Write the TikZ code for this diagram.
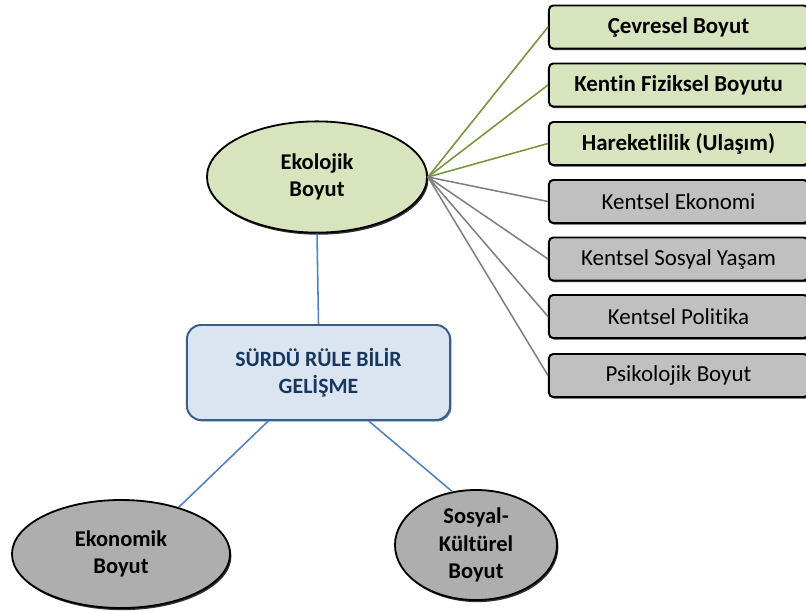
\documentclass[tikz,border=0pt]{standalone}
\usepackage{fontspec}
\setmainfont{Carlito}[RawFeature={-liga}]
\usetikzlibrary{shapes.geometric,shadows}
\definecolor{ekofill}{HTML}{D7E4BD}
\definecolor{ekoline}{HTML}{77933C}
\definecolor{kentfill}{HTML}{C0C0C0}
\definecolor{kentline}{HTML}{808080}
\definecolor{ovalgray}{HTML}{AEAEAE}
\definecolor{sgfill}{HTML}{DBE5F1}
\definecolor{sgline}{HTML}{385D8A}
\definecolor{sgtext}{HTML}{17375E}
\definecolor{bluelink}{HTML}{4F81BD}

\tikzset{
  boyutbox/.style={draw=black, line width=1.4pt, rounded corners=3pt, minimum width=6.475cm, minimum height=1.075cm, inner sep=0pt, drop shadow={shadow xshift=0.8pt, shadow yshift=-1.2pt, fill=black!75, opacity=1}},
  greenbox/.style={boyutbox, fill=ekofill, font=\fontsize{16.3}{19}\selectfont\bfseries},
  graybox/.style={boyutbox, fill=kentfill, font=\fontsize{16.3}{19}\selectfont},
  boyutoval/.style={ellipse, draw=black, line width=1.3pt, inner sep=0pt, align=center, font=\fontsize{16}{19.5}\selectfont\bfseries, drop shadow={shadow xshift=1pt, shadow yshift=-1.5pt, fill=black!80, opacity=1}},
  greenlink/.style={ekoline, line width=1.1pt},
  graylink/.style={kentline, line width=1.1pt},
  bluelinkline/.style={bluelink, line width=1.1pt}
}

\begin{document}
\begin{tikzpicture}[x=0.025cm, y=-0.025cm]
  \clip (0,0) rectangle (806,612);

  % main dimensions
  \node[boyutoval, fill=ekofill, minimum width=5.5cm, minimum height=2.78cm] (eko) at (317,177) {Ekolojik\\Boyut};
  \node[draw=sgline, fill=sgfill, line width=1.4pt, rounded corners=10pt, minimum width=6.575cm, minimum height=2.375cm, align=center, text=sgtext, font=\fontsize{15.5}{19.5}\selectfont\bfseries, drop shadow={shadow xshift=1pt, shadow yshift=-1pt, fill=sgline!80, opacity=1}] (sg) at (318.5,372.5) {SÜRDÜ RÜLE BİLİR\\GELİŞME};
  \node[boyutoval, fill=ovalgray, minimum width=5.45cm, minimum height=2.7cm] (ekon) at (121,554) {Ekonomik\\Boyut};
  \node[boyutoval, fill=ovalgray, minimum width=4.05cm, minimum height=2.75cm] (sos) at (476,545) {Sosyal-\\Kültürel\\Boyut};

  % sub dimensions
  \node[greenbox] (cev) at (678.5,27) {Çevresel Boyut};
  \node[greenbox] (fiz) at (678.5,85) {Kentin Fiziksel Boyutu};
  \node[greenbox] (ula) at (678.5,143.5) {Hareketlilik (Ulaşım)};
  \node[graybox] (eko2) at (678.5,201.5) {Kentsel Ekonomi};
  \node[graybox] (sosy) at (678.5,259) {Kentsel Sosyal Yaşam};
  \node[graybox] (pol) at (678.5,316.5) {Kentsel Politika};
  \node[graybox] (psi) at (678.5,375.5) {Psikolojik Boyut};

  % links
  \foreach \b in {cev,fiz,ula}
    \draw[greenlink] (eko.east) -- (\b.west);
  \foreach \b in {eko2,sosy,pol,psi}
    \draw[graylink] (eko.east) -- (\b.west);

  \draw[bluelinkline] (eko.south) -- (sg.north);
  \draw[bluelinkline] (sg.-136) -- (ekon.39);
  \draw[bluelinkline] (sg.-44) -- (sos.114);
\end{tikzpicture}
\end{document}
